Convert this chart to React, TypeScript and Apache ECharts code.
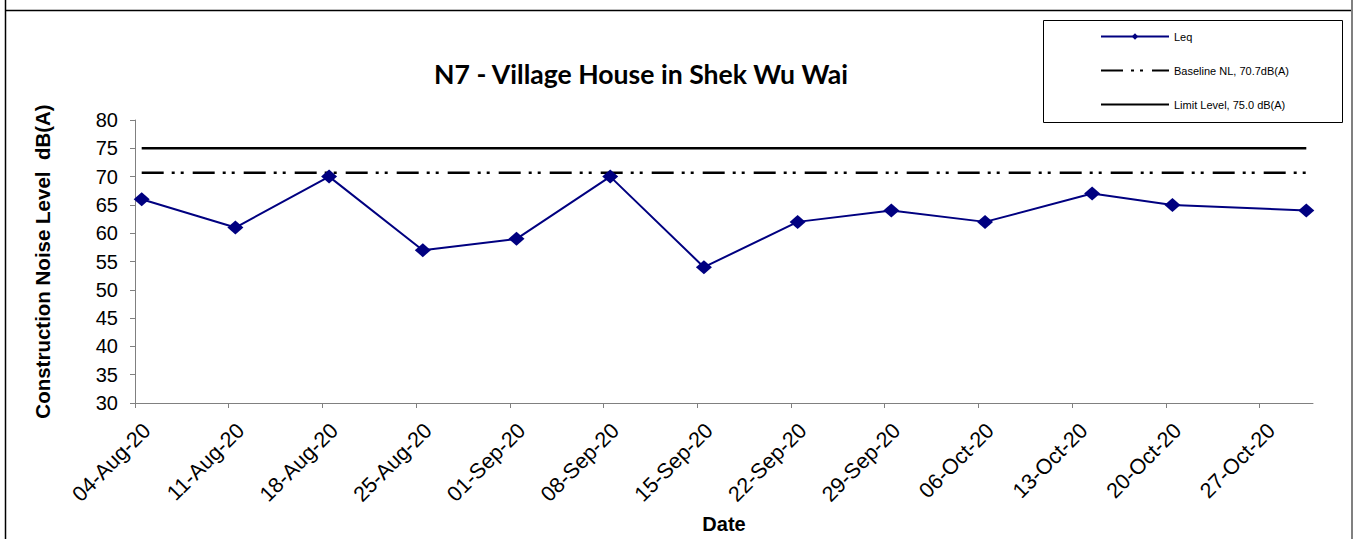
import React, { useEffect, useRef } from "react";
import * as echarts from "echarts";

const AXIS_START = "2020-08-04";
const AXIS_DAYS = 88;
const TICK_STEP = 7;
const MONTHS = ["Jan", "Feb", "Mar", "Apr", "May", "Jun", "Jul", "Aug", "Sep", "Oct", "Nov", "Dec"];

const measureDates = [
  "2020-08-04", "2020-08-11", "2020-08-18", "2020-08-25", "2020-09-01", "2020-09-08",
  "2020-09-15", "2020-09-22", "2020-09-29", "2020-10-06", "2020-10-14", "2020-10-20", "2020-10-30",
];
const leqValues = [66, 61, 70, 57, 59, 70, 54, 62, 64, 62, 67, 65, 64];
const baselineLevel = 70.7;
const limitLevel = 75.0;

const LEQ_NAME = "Leq";
const BASE_NAME = "Baseline NL, 70.7dB(A)";
const LIMIT_NAME = "Limit Level, 75.0 dB(A)";

const DAY = 86400000;
const startMs = Date.parse(AXIS_START + "T00:00:00Z");
const dayOffset = (d: string) => (Date.parse(d + "T00:00:00Z") - startMs) / DAY;
const fmtDay = (off: number) => {
  const dt = new Date(startMs + off * DAY);
  const dd = String(dt.getUTCDate()).padStart(2, "0");
  const yy = String(dt.getUTCFullYear()).slice(2);
  return `${dd}-${MONTHS[dt.getUTCMonth()]}-${yy}`;
};

export default function App() {
  const ref = useRef<HTMLDivElement>(null);
  useEffect(() => {
    if (!ref.current) return;
    const chart = echarts.init(ref.current, null, { renderer: "svg" });
    const xs = measureDates.map((d) => dayOffset(d) + 0.5);
    const tickVals: number[] = [];
    for (let v = 0; v < AXIS_DAYS; v += TICK_STEP) tickVals.push(v);
    const arial = "'Liberation Sans', Arial, sans-serif";
    chart.setOption({
      animation: false,
      backgroundColor: "#fff",
      title: {
        text: "N7 - Village House in Shek Wu Wai",
        left: 636,
        top: 55,
        textAlign: "center",
        textStyle: { fontFamily: "Lato, 'Open Sans', sans-serif", fontWeight: "bold", fontSize: 26.6, color: "#000" },
      },
      legend: {
        data: [
          { name: LEQ_NAME },
          { name: BASE_NAME, itemStyle: { opacity: 0 } },
          { name: LIMIT_NAME, itemStyle: { opacity: 0 } },
        ],
        orient: "vertical",
        left: 1100,
        top: 31,
        padding: 0,
        itemWidth: 68,
        itemHeight: 8,
        itemGap: 23,
        textStyle: { fontFamily: arial, fontSize: 11, color: "#000" },
      },
      grid: { left: 135, right: 43, top: 120, bottom: 132 },
      xAxis: {
        type: "value",
        min: 0,
        max: AXIS_DAYS,
        interval: TICK_STEP,
        name: "Date",
        nameLocation: "middle",
        nameGap: 111,
        nameTextStyle: { fontFamily: arial, fontWeight: "bold", fontSize: 20, color: "#000" },
        axisLine: { lineStyle: { color: "#808080", width: 1 } },
        axisTick: { show: true, length: 5, lineStyle: { color: "#808080" }, customValues: tickVals },
        axisLabel: {
          rotate: 45,
          margin: 36,
          padding: [0, -17, 0, 0],
          fontFamily: arial,
          fontSize: 21.5,
          color: "#000",
          customValues: tickVals,
          formatter: (v: number) => fmtDay(v),
        },
        splitLine: { show: false },
      },
      yAxis: {
        type: "value",
        min: 30,
        max: 80,
        interval: 5,
        name: "Construction Noise Level  dB(A)",
        nameLocation: "middle",
        nameGap: 82,
        nameTextStyle: { fontFamily: arial, fontWeight: "bold", fontSize: 20.5, color: "#000" },
        axisLine: { show: true, lineStyle: { color: "#808080", width: 1 } },
        axisTick: { show: true, length: 5, lineStyle: { color: "#808080" } },
        axisLabel: { margin: 17, fontFamily: arial, fontSize: 20, color: "#000" },
        splitLine: { show: false },
      },
      series: [
        {
          name: LIMIT_NAME,
          type: "line",
          data: xs.map((x) => [x, limitLevel]),
          symbol: "none",
          lineStyle: { color: "#000", width: 2.5, type: "solid" },
          itemStyle: { color: "#000" },
        },
        {
          name: BASE_NAME,
          type: "line",
          data: xs.map((x) => [x, baselineLevel]),
          symbol: "none",
          lineStyle: { color: "#000", width: 2.5, type: [22, 8, 3, 6, 3, 9] },
          itemStyle: { color: "#000" },
        },
        {
          name: LEQ_NAME,
          type: "line",
          data: xs.map((x, i) => [x, leqValues[i]]),
          symbol: "diamond",
          symbolSize: [16, 14],
          lineStyle: { color: "#000080", width: 2 },
          itemStyle: { color: "#000080" },
        },
      ],
      graphic: [
        { type: "line", shape: { x1: 5.5, y1: 0, x2: 5.5, y2: 539 }, style: { stroke: "#000", lineWidth: 1.5 } },
        { type: "line", shape: { x1: 5, y1: 10.5, x2: 1351, y2: 10.5 }, style: { stroke: "#000", lineWidth: 1.5 } },
        { type: "line", shape: { x1: 1352, y1: 0, x2: 1352, y2: 539 }, style: { stroke: "#808080", lineWidth: 2 } },
        { type: "rect", shape: { x: 1043.5, y: 20.5, width: 299, height: 102 }, style: { fill: "none", stroke: "#000", lineWidth: 1 } },
      ],
    });
    return () => chart.dispose();
  }, []);
  return (
    <div
      ref={ref}
      style={{ position: "fixed", left: 0, top: 0, width: 1356, height: 539 }}
    />
  );
}
